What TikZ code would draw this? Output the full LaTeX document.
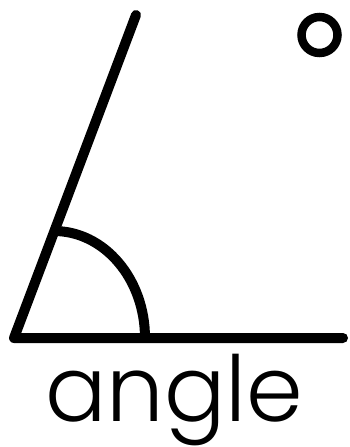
\documentclass[tikz,border=0pt]{standalone}
\usepackage{fontspec}
\newfontfamily\labelfont{Poppins}[UprightFont=* Light]
\begin{document}
\begin{tikzpicture}[x=1pt,y=-1pt,
  stroke/.style={line width=10pt,line cap=round,line join=round},
  lbl/.style={font=\labelfont\fontsize{91}{91}\selectfont,inner sep=0pt,anchor=base,text depth=0pt}]
\useasboundingbox (0,0) rectangle (349,447);
\coordinate (v) at (14,338);
\coordinate (top) at (136,15);
\coordinate (right) at (343,338);
\coordinate (arcstart) at (54,231);
\draw[stroke] (top) -- (v) -- (right);
\draw[stroke,line cap=butt] (arcstart) arc[start angle=-90,end angle=0,x radius=91,y radius=107];
\node[draw,circle,line width=8.5pt,minimum size=36pt,inner sep=0pt] (deg) at (319.5,35) {};
\node[lbl] (word) at (174,421) {angle};
\end{tikzpicture}
\end{document}
